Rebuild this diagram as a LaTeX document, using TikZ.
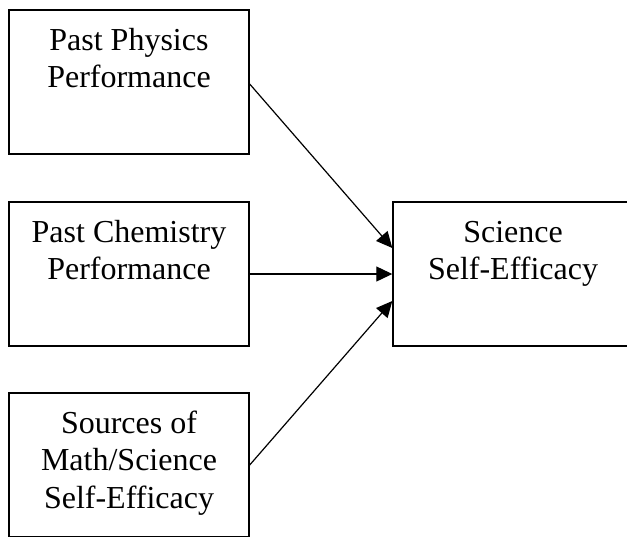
\documentclass[tikz,border=0pt]{standalone}
\usepackage{fontspec}
\setmainfont{Liberation Serif}
\usepackage{tikz}
\usetikzlibrary{arrows.meta}

\newcommand{\boxlines}[1]{\parbox[c][144pt][t]{240pt}{\centering\rule{0pt}{40pt}#1}}

\tikzset{
  varbox/.style={draw, line width=1.4pt, inner sep=0pt, minimum width=240pt, minimum height=144pt,
    font=\fontsize{32}{37.5}\selectfont},
  link/.style={line width=1.2pt, -{Triangle[length=16pt,width=15pt]}}
}

\begin{document}
\begin{tikzpicture}[x=1pt, y=-1pt]
  \useasboundingbox (0,0) rectangle (627,536);

  \node[varbox] (phys) at (129,82) {\boxlines{Past Physics\\Performance}};
  \node[varbox] (chem) at (129,274) {\boxlines{Past Chemistry\\Performance}};
  \node[varbox] (src) at (129,465) {\boxlines{Sources of\\Math/Science\\Self-Efficacy}}; % cut at bottom
  \node[varbox] (eff) at (513,274) {\boxlines{Science\\Self-Efficacy}};

  \draw[link] ([yshift=-2pt]phys.east) -- ([yshift=26pt]eff.west);
  \draw[link] (chem.east) -- (eff.west);
  \draw[link] (src.east) -- ([yshift=-27pt]eff.west);
\end{tikzpicture}
\end{document}
